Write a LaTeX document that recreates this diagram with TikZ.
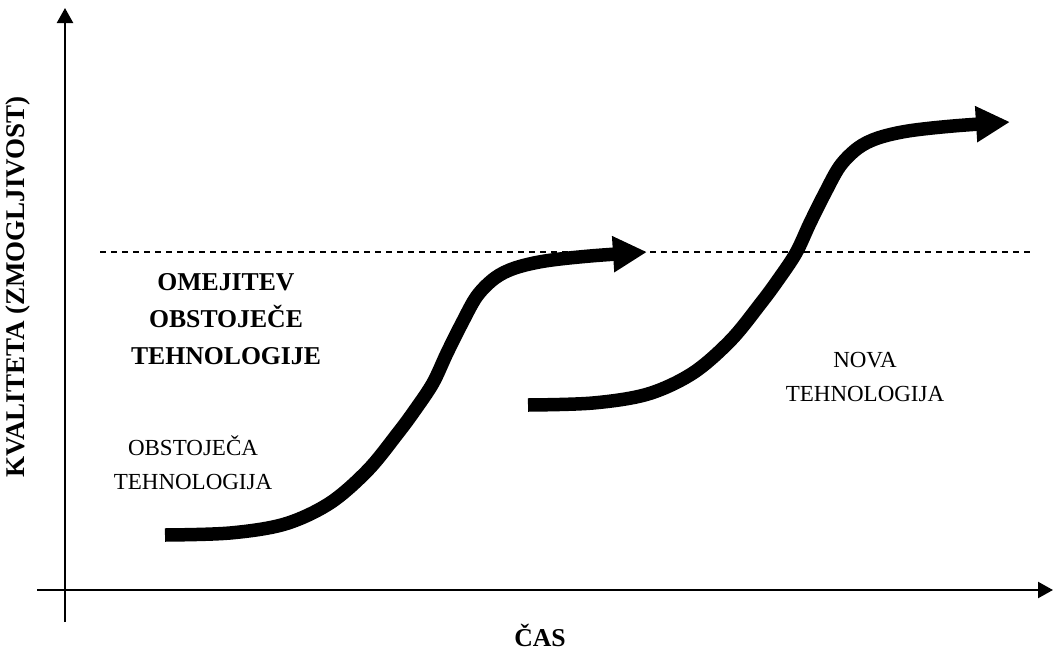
\documentclass[tikz,border=0pt]{standalone}
\usepackage{fontspec}
\setmainfont{Liberation Serif}
\usetikzlibrary{arrows.meta}

\begin{document}
\begin{tikzpicture}[
  x=1pt, y=-1pt,
  axis/.style={line width=2.3pt, -{Triangle[length=15pt,width=16pt]}},
  scurve/.style={line width=13.5pt, line join=round, -{Triangle[length=34pt,width=34pt]}},
  limit/.style={line width=1.3pt, dash pattern=on 6pt off 5pt},
  lbl/.style={align=center, inner sep=0pt, font=\fontsize{23}{34}\selectfont},
  blbl/.style={align=center, inner sep=0pt, font=\bfseries\fontsize{25.7}{37}\selectfont}
]
\useasboundingbox (0,0) rectangle (1053,651);

% axes
\coordinate (ybot) at (65,622);
\coordinate (ytop) at (65,8);
\coordinate (xleft) at (37,590);
\coordinate (xright) at (1053,590);
\draw[axis] (ybot) -- (ytop);
\draw[axis] (xleft) -- (xright);

% limit of the existing technology
\coordinate (dashl) at (100,252);
\coordinate (dashr) at (1030,252);
\draw[limit] (dashl) -- (dashr);

% the two S-curves
\draw[scurve] plot[smooth, tension=0.55] coordinates {(165,535) (230,533) (285,524) (330,503) (368,470) (398,433) (415,410) (433,383) (447,353) (462,323) (477,296) (495,278) (515,268) (545,261) (590,256) (647,252)};
\draw[scurve, shift={(363,-130)}] plot[smooth, tension=0.55] coordinates {(165,535) (230,533) (285,524) (330,503) (368,470) (398,433) (415,410) (433,383) (447,353) (462,323) (477,296) (495,278) (515,268) (545,261) (590,256) (647,252)};

% labels
\node[blbl, font=\bfseries\fontsize{27}{37}\selectfont, rotate=90] (quality) at (18,287) {KVALITETA (ZMOGLJIVOST)};
\node[inner sep=0pt, anchor=base, font=\bfseries\fontsize{25.7}{30}\selectfont] (time) at (540,646) {ČAS};
\node[blbl] (limtxt) at (226,319) {OMEJITEV\\OBSTOJEČE\\TEHNOLOGIJE};
\node[lbl] (oldtxt) at (193,463) {OBSTOJEČA\\TEHNOLOGIJA};
\node[lbl] (newtxt) at (865,377) {NOVA\\TEHNOLOGIJA};
\end{tikzpicture}
\end{document}
